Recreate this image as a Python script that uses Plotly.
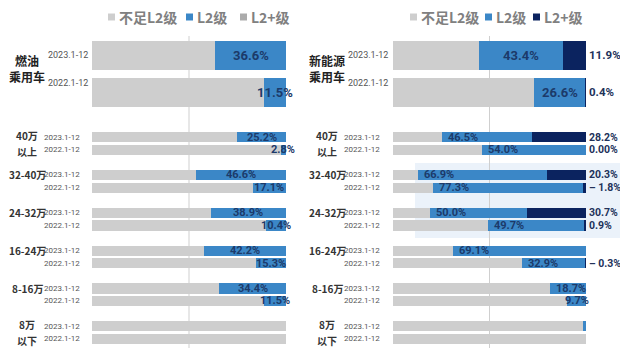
import plotly.graph_objects as go

W, H = 620, 350

years = ["2023.1-12", "2022.1-12"]
segments = ["不足L2级", "L2级", "L2+级"]
price_bands = [["40万", "以上"], ["32-40万"], ["24-32万"], ["16-24万"], ["8-16万"], ["8万", "以下"]]
panel_titles = [["燃油", "乘用车"], ["新能源", "乘用车"]]

# 燃油乘用车: L2 share (%), [2023, 2022]
fuel_l2_total = [36.6, 11.5]
fuel_l2_band = [[25.2, 2.8], [46.6, 17.1], [38.9, 10.4], [42.2, 15.3], [34.4, 11.5], [0.0, 0.0]]

# 新能源乘用车: L2 and L2+ share (%), [2023, 2022]
nev_l2_total = [43.4, 26.6]
nev_l2p_total = [11.9, 0.4]
nev_l2_band = [[46.5, 54.0], [66.9, 77.3], [50.0, 49.7], [69.1, 32.9], [18.7, 9.7], [1.5, 0.0]]
nev_l2p_band = [[28.2, 0.0], [20.3, 1.8], [30.7, 0.9], [0.0, 0.3], [0.0, 0.0], [0.0, 0.0]]
nev_l2p_band_text = [["28.2%", "0.00%"], ["20.3%", "1.8%"], ["30.7%", "0.9%"], ["", "0.3%"], ["", ""], ["", ""]]
nev_l2p_band_leader = [[False, False], [False, True], [False, False], [False, True], [False, False], [False, False]]

C_BASE = "#cecece"
C_L2 = "#3b87c7"
C_L2P = "#0b235f"
C_L2P_FUEL = "#ababab"
C_LABEL = "#1c3a6a"
C_OUT = "#22325a"

NUM_FONT = "Roboto, sans-serif"
CJK_FONT = "Noto Sans CJK SC, Noto Sans, sans-serif"


def px_x(x):
    return x / W


def px_y(y):
    return 1 - y / H


# vertical layout (pixels from top)
TOP_C0, TOP_PITCH = 55.0, 37.0
LOW_C0, LOW_PITCH = 137.0, 12.6
top_rows = [0, 1]
low_rows = [3 * g + i for g in range(len(price_bands)) for i in range(2)]
TOP_RANGE = [1.5, -0.5]
LOW_RANGE = [16.5, -0.5]
top_dom = [px_y(TOP_C0 + 1.5 * TOP_PITCH), px_y(TOP_C0 - 0.5 * TOP_PITCH)]
low_dom = [px_y(LOW_C0 + 16.5 * LOW_PITCH), px_y(LOW_C0 - 0.5 * LOW_PITCH)]

LEFT_X = (92, 286)
RIGHT_X = (393, 586)

fig = go.Figure()


def add_stack(xa, ya, ys, l2, l2p, width, l2p_color):
    base = [100 - a - b for a, b in zip(l2, l2p)]
    for name, vals, col in zip(segments, [base, l2, l2p], [C_BASE, C_L2, l2p_color]):
        fig.add_trace(go.Bar(
            x=vals, y=ys, orientation="h", name=name, width=width,
            marker=dict(color=col, line=dict(width=0)),
            xaxis=xa, yaxis=ya, showlegend=False, hoverinfo="skip"))


flat = lambda rows: [v for r in rows for v in r]

# fuel panel
add_stack("x", "y", top_rows, fuel_l2_total, [0, 0], 0.81, C_L2P_FUEL)
add_stack("x", "y2", low_rows, flat(fuel_l2_band), [0] * 12, 0.8, C_L2P_FUEL)
# NEV panel
add_stack("x2", "y3", top_rows, nev_l2_total, nev_l2p_total, 0.81, C_L2P)
add_stack("x2", "y4", low_rows, flat(nev_l2_band), flat(nev_l2p_band), 0.8, C_L2P)

ann = []


def num(text, x, y, xref, yref, size, color=C_LABEL, xanchor="center", xshift=0, yshift=0):
    ann.append(dict(text=text, x=x, y=y, xref=xref, yref=yref, showarrow=False,
                    xanchor=xanchor, yanchor="middle", xshift=xshift, yshift=yshift,
                    font=dict(family=NUM_FONT, size=size, color=color, weight="bold")))


# fuel labels (centred in the L2 segment)
for i, v in zip(top_rows, fuel_l2_total):
    num(f"{v}%", 100 - v / 2, i, "x", "y", 13)
for y, v in zip(low_rows, flat(fuel_l2_band)):
    if v > 0:
        num(f"{v}%", 100 - v / 2, y, "x", "y2", 11)

# NEV labels
for i, a, b in zip(top_rows, nev_l2_total, nev_l2p_total):
    num(f"{a}%", 100 - b - a / 2, i, "x2", "y3", 13)
    num(f"{b}%", 100, i, "x2", "y3", 11.5, color=C_OUT, xanchor="left", xshift=1)
for y, a, b, t, lead in zip(low_rows, flat(nev_l2_band), flat(nev_l2p_band),
                            flat(nev_l2p_band_text), flat(nev_l2p_band_leader)):
    if a >= 15:
        num(f"{a}%", 100 - b - a, y, "x2", "y4", 11, xanchor="left", xshift=4)
    elif a >= 5:
        num(f"{a}%", 100 - b - a / 2, y, "x2", "y4", 11)
    if t:
        num(("– " if lead else "") + t, 100, y, "x2", "y4", 10.5, color=C_OUT, xanchor="left", xshift=1)

# year labels
for px_right, ya_top, ya_low in [(LEFT_X[0] - 2, "y", "y2"), (RIGHT_X[0] - 3, "y3", "y4")]:
    for i, yr in zip(top_rows, years):
        ann.append(dict(text=yr, x=px_x(px_right), y=i, xref="paper", yref=ya_top,
                        showarrow=False, xanchor="right", yanchor="middle",
                        yshift=(0 if i == 0 else 9),
                        font=dict(family=NUM_FONT, size=9, color="#555555")))
    for y in low_rows:
        ann.append(dict(text=years[y % 3], x=px_x(px_right - 8), y=y, xref="paper", yref=ya_low,
                        showarrow=False, xanchor="right", yanchor="middle",
                        font=dict(family=NUM_FONT, size=8, color="#555555")))

# panel titles and price-band labels
for cx, title in [(27, panel_titles[0]), (327, panel_titles[1])]:
    for k, line in enumerate(title):
        ann.append(dict(text=line, x=px_x(cx), y=px_y(61 + 16 * k), xref="paper", yref="paper",
                        showarrow=False, xanchor="center", yanchor="middle", borderpad=0,
                        font=dict(family=CJK_FONT, size=12, color="#222222", weight="bold")))
    ya_low = "y2" if cx < 300 else "y4"
    for g, band in enumerate(price_bands):
        two_line = len(band) > 1
        for k, line in enumerate(band):
            ann.append(dict(text=line, x=px_x(cx), y=3 * g + k,
                            yshift=((1.5 if k == 0 else -1.5) if two_line else 0),
                            xref="paper", yref=ya_low, showarrow=False,
                            xanchor="center", yanchor="middle", borderpad=0,
                            font=dict(family=CJK_FONT, size=10, color="#333333", weight="bold")))

# legends
shapes = []
legend_items = [
    [(108, C_BASE, "不足L2级"), (186, C_L2, "L2级"), (240, C_L2P_FUEL, "L2+级")],
    [(410, C_BASE, "不足L2级"), (485, C_L2, "L2级"), (533, C_L2P, "L2+级")],
]
LEG_Y = 17
for items in legend_items:
    for x0, col, label in items:
        shapes.append(dict(type="rect", xref="paper", yref="paper",
                           x0=px_x(x0), x1=px_x(x0 + 7), y0=px_y(LEG_Y + 3.5), y1=px_y(LEG_Y - 3.5),
                           fillcolor=col, line=dict(width=0)))
        ann.append(dict(text=label, x=px_x(x0 + 9), y=px_y(LEG_Y), xref="paper", yref="paper",
                        showarrow=False, xanchor="left", yanchor="middle",
                        font=dict(family=CJK_FONT, size=14, color="#808080", weight="bold")))

# highlight behind the 24-40万 NEV rows
shapes.append(dict(type="rect", xref="paper", yref="paper", layer="below",
                   x0=px_x(415), x1=1, y0=px_y(238), y1=px_y(163),
                   fillcolor="rgba(205,222,242,0.4)", line=dict(width=0)))

# 50% reference lines
for xr in ["x", "x2"]:
    shapes.append(dict(type="line", xref=xr, yref="paper", x0=50, x1=50,
                       y0=px_y(348), y1=px_y(36), layer="below",
                       line=dict(color="#cfcfcf", width=1)))

hidden = dict(visible=False, fixedrange=True)
fig.update_layout(
    width=W, height=H,
    margin=dict(l=0, r=0, t=0, b=0),
    paper_bgcolor="white", plot_bgcolor="rgba(0,0,0,0)",
    barmode="stack", bargap=0,
    xaxis=dict(domain=[px_x(LEFT_X[0]), px_x(LEFT_X[1])], range=[0, 100], anchor="y2", **hidden),
    xaxis2=dict(domain=[px_x(RIGHT_X[0]), px_x(RIGHT_X[1])], range=[0, 100], anchor="y4", **hidden),
    yaxis=dict(domain=top_dom, range=TOP_RANGE, anchor="x", **hidden),
    yaxis2=dict(domain=low_dom, range=LOW_RANGE, anchor="x", **hidden),
    yaxis3=dict(domain=top_dom, range=TOP_RANGE, anchor="x2", **hidden),
    yaxis4=dict(domain=low_dom, range=LOW_RANGE, anchor="x2", **hidden),
    annotations=ann, shapes=shapes,
    showlegend=False,
)

fig.write_html("out.html")
